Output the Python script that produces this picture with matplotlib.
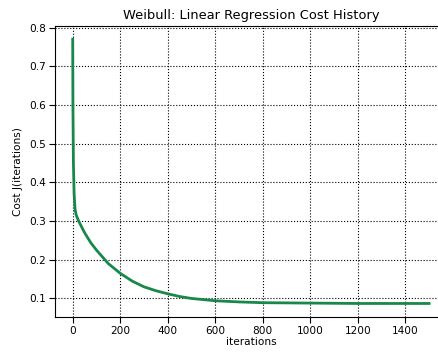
import matplotlib
matplotlib.use("Agg")
import matplotlib.pyplot as plt
import numpy as np

iterations = [0, 1, 3, 6, 10, 15, 25, 50, 75, 100, 150, 200, 250, 300, 350, 400,
              450, 500, 600, 700, 800, 1000, 1200, 1500]
cost = [0.77, 0.60, 0.45, 0.37, 0.33, 0.315, 0.30, 0.27, 0.245, 0.225, 0.19, 0.165,
        0.145, 0.13, 0.12, 0.112, 0.105, 0.10, 0.094, 0.091, 0.089, 0.088, 0.087, 0.087]

fig = plt.figure(figsize=(4.39, 3.54), dpi=100)
ax = fig.add_axes([0.125, 0.1054, 0.893, 0.8212])
ax.plot(iterations, cost, color='#17884a', linewidth=2.0)
ax.grid(True, color='black', linestyle=':', linewidth=0.8)
ax.set_xticks([0, 200, 400, 600, 800, 1000, 1200, 1400])
ax.set_yticks([0.1, 0.2, 0.3, 0.4, 0.5, 0.6, 0.7, 0.8])
ax.tick_params(labelsize=7.6, length=4, pad=2.5)
ax.set_xlabel('iterations', fontsize=7.6, labelpad=1)
ax.set_ylabel('Cost J(iterations)', fontsize=7.6, labelpad=4)
ax.set_title('Weibull: Linear Regression Cost History', fontsize=9.4, pad=5)
fig.savefig('out.png', dpi=100)
